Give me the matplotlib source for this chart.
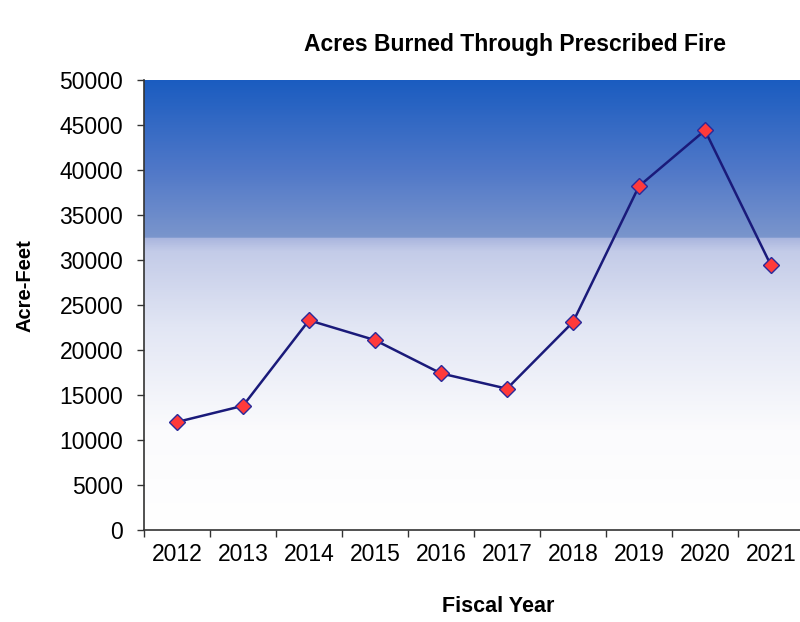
import numpy as np
import matplotlib
matplotlib.use("Agg")
import matplotlib.pyplot as plt
from matplotlib.colors import LinearSegmentedColormap
from matplotlib.ticker import FixedLocator, NullFormatter

plt.rcParams['font.family'] = ['Liberation Sans', 'DejaVu Sans']

years = ['2012', '2013', '2014', '2015', '2016', '2017', '2018', '2019', '2020', '2021']
acres = [12000, 13800, 23300, 21100, 17400, 15700, 23100, 38200, 44400, 29400]
yticks = [0, 5000, 10000, 15000, 20000, 25000, 30000, 35000, 40000, 45000, 50000]

fig = plt.figure(figsize=(8, 6.22), dpi=100)
ax = fig.add_axes([0.18, 0.1479, 0.82, 0.7235])

n = len(years)
xmax = 9.94
ax.set_xlim(0, xmax)
ax.set_ylim(0, 50000)

# background gradient
cmap = LinearSegmentedColormap.from_list('bg', [
    (0.0, '#ffffff'),
    (0.22, '#fbfbfd'),
    (0.45, '#e2e6f4'),
    (0.62, '#c3cbe8'),
    (0.649, '#a9b5de'),
    (0.651, '#7a95cc'),
    (0.80, '#5078c8'),
    (1.0, '#1a5cc0'),
])
grad = np.linspace(0, 1, 500).reshape(-1, 1)
ax.imshow(grad, aspect='auto', cmap=cmap, origin='lower',
          extent=[0, xmax, 0, 50000], zorder=0, interpolation='bilinear')

x = np.arange(n) + 0.5
ax.plot(x, acres, color='#1a1a7a', lw=1.8, zorder=3,
        marker='D', markersize=8, markerfacecolor='#ff3a3a',
        markeredgecolor='#2a2a9a', markeredgewidth=1.0, clip_on=False)

ax.set_yticks(yticks)
ax.set_yticklabels([str(v) for v in yticks])
ax.xaxis.set_major_locator(FixedLocator(np.arange(0, n + 1)))
ax.xaxis.set_major_formatter(NullFormatter())
ax.xaxis.set_minor_locator(FixedLocator(x))
ax.set_xticklabels(years, minor=True)

ax.tick_params(axis='y', which='major', direction='out', length=5, width=1,
               color='#333333', labelsize=16.5, pad=10, labelcolor='#000000')
ax.tick_params(axis='x', which='major', direction='out', length=5, width=1,
               color='#333333')
ax.tick_params(axis='x', which='minor', length=0, labelsize=16.5, pad=9,
               labelcolor='#000000')

for s in ['top', 'right']:
    ax.spines[s].set_visible(False)
for s in ['left', 'bottom']:
    ax.spines[s].set_color('#333333')
    ax.spines[s].set_linewidth(1.2)

fig.text(515 / 800, 1 - 45 / 622, 'Acres Burned Through Prescribed Fire',
         ha='center', va='center', fontsize=16.5, fontweight='bold')
fig.text(498 / 800, 1 - 607 / 622, 'Fiscal Year',
         ha='center', va='center', fontsize=15.5, fontweight='bold')
fig.text(25 / 800, 1 - 286 / 622, 'Acre-Feet', rotation=90,
         ha='center', va='center', fontsize=14.5, fontweight='bold')

fig.savefig('out.png', dpi=100)
